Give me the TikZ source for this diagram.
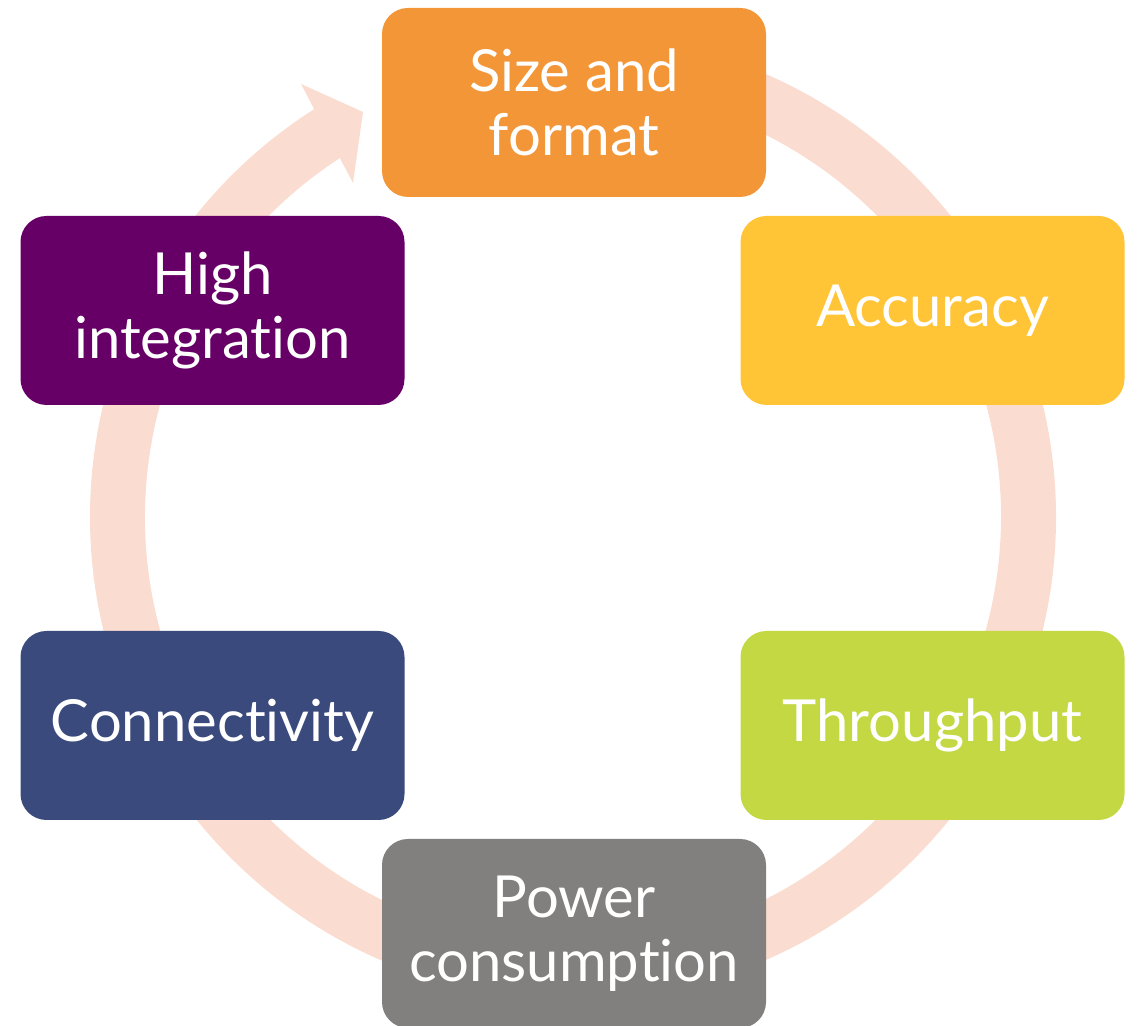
\documentclass[tikz,border=0pt]{standalone}
\usepackage{fontspec}
\setmainfont{Lato}[Ligatures={NoCommon}]
\usetikzlibrary{calc}
\definecolor{ringpink}{HTML}{FADCD0}
\definecolor{cOrange}{HTML}{F39637}
\definecolor{cYellow}{HTML}{FFC537}
\definecolor{cGreen}{HTML}{C4D844}
\definecolor{cGray}{HTML}{82807E}
\definecolor{cNavy}{HTML}{3B4A7C}
\definecolor{cPurple}{HTML}{660066}
\begin{document}
\begin{tikzpicture}[
  stage/.style={rounded corners=0.26cm, minimum width=3.84cm, minimum height=1.89cm,
    inner sep=0pt, text=white, align=center, font=\fontsize{16.5}{18.3}\selectfont}
]
\useasboundingbox (0,0) rectangle (11.4,10.26);
\coordinate (c) at (5.73,5.09);
% circular arrow behind the stages
\fill[ringpink]
  ($(c)+(95:4.83)$) arc[start angle=95, end angle=-237.6, radius=4.83]
  -- (3.01,9.42) -- (3.63,9.14) -- (3.53,8.43)
  -- ($(c)+(-237:4.28)$) arc[start angle=-237, end angle=95, radius=4.28] -- cycle;
% stages
\node[stage, fill=cOrange] (size) at (5.74,9.235) {Size and\\format};
\node[stage, fill=cYellow] (acc) at (9.325,7.155) {Accuracy};
\node[stage, fill=cGreen] (thr) at (9.325,3.005) {Throughput};
\node[stage, fill=cGray] (pow) at (5.74,0.925) {Power\\consumption};
\node[stage, fill=cNavy] (con) at (2.125,3.005) {Connectivity};
\node[stage, fill=cPurple] (hig) at (2.125,7.155) {High\\integration};
\end{tikzpicture}
\end{document}
